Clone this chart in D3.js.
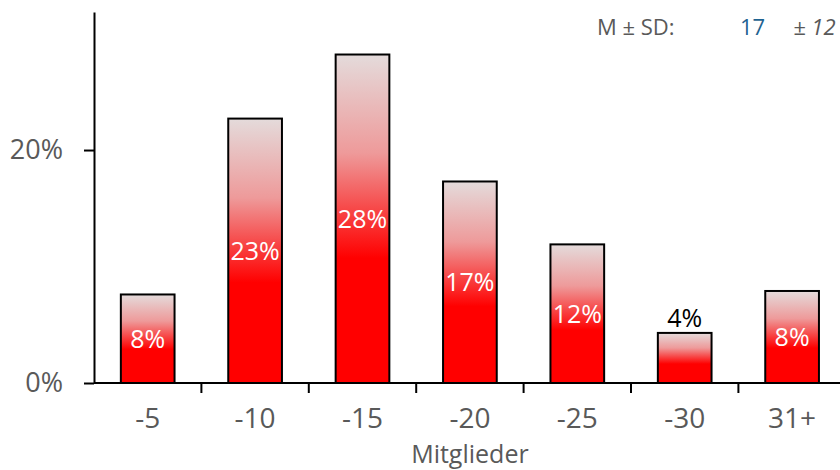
<!DOCTYPE html>
<html>
<head>
<meta charset="utf-8">
<script src="https://cdn.jsdelivr.net/npm/d3@7"></script>
<style>
  html, body { margin: 0; padding: 0; background: #fff; }
  svg { display: block; font-family: "Open Sans", sans-serif; }
</style>
</head>
<body>
<svg id="chart" width="840" height="470"></svg>
<script>
// Group sizes (members) and share of respondents, in percent
const categories = ["-5", "-10", "-15", "-20", "-25", "-30", "31+"];
const shares = [7.6, 22.7, 28.2, 17.3, 11.9, 4.3, 7.9];
const yTicks = [0, 20];
const meanValue = "17";
const sdValue = "± 12";

const svg = d3.select("#chart");
const margin = { left: 94, top: 12, bottom: 87 };
const height = 470;
const step = 107.4;
const FONT = "'Open Sans', sans-serif";

const x = d3.scaleBand()
  .domain(categories)
  .range([margin.left, margin.left + step * categories.length])
  .paddingInner(0.5)
  .paddingOuter(0.25);

const y = d3.scaleLinear()
  .domain([0, 31.85])
  .range([height - margin.bottom, margin.top]);

// bar fill: pale top fading into solid red
const defs = svg.append("defs");
const grad = defs.append("linearGradient")
  .attr("id", "barFill")
  .attr("x1", 0).attr("y1", 0).attr("x2", 0).attr("y2", 1);
grad.append("stop").attr("offset", "0%").attr("stop-color", "#e4dbdb");
grad.append("stop").attr("offset", "30%").attr("stop-color", "#ee9a9a");
grad.append("stop").attr("offset", "62%").attr("stop-color", "#ff0000");
grad.append("stop").attr("offset", "100%").attr("stop-color", "#ff0000");

// bars
svg.append("g").selectAll("rect")
  .data(shares)
  .join("rect")
  .attr("x", (d, i) => x(categories[i]))
  .attr("y", d => y(d))
  .attr("width", x.bandwidth())
  .attr("height", d => y(0) - y(d))
  .attr("fill", "url(#barFill)")
  .attr("stroke", "#000")
  .attr("stroke-width", 2);

// value labels: inside the bar when it fits, above it otherwise
const fmt = d => Math.round(d) + "%";
const fits = d => (y(0) - y(d)) > 60;
svg.append("g").selectAll("text")
  .data(shares)
  .join("text")
  .attr("x", (d, i) => x(categories[i]) + x.bandwidth() / 2)
  .attr("y", d => fits(d) ? (y(d) + y(0)) / 2 : y(d) - 6)
  .attr("dy", d => fits(d) ? "0.36em" : "0")
  .attr("text-anchor", "middle")
  .attr("font-size", 25)
  .attr("fill", d => fits(d) ? "#fff" : "#000")
  .text(fmt);

// y axis
const yAxis = svg.append("g")
  .attr("transform", `translate(${margin.left},0)`)
  .call(d3.axisLeft(y).tickValues(yTicks).tickFormat(d => d + "%").tickSize(10).tickSizeOuter(0));
yAxis.select(".domain").attr("stroke", "#000").attr("stroke-width", 2);
yAxis.selectAll(".tick line").attr("stroke", "#000").attr("stroke-width", 2);
yAxis.selectAll(".tick text")
  .attr("font-size", 27).attr("fill", "#595959").attr("x", -31)
  .attr("font-family", FONT);

// x axis: line with ticks between the categories
const baseY = y(0);
const xAxis = svg.append("g");
xAxis.append("line")
  .attr("x1", margin.left).attr("x2", 840)
  .attr("y1", baseY).attr("y2", baseY)
  .attr("stroke", "#000").attr("stroke-width", 2);
xAxis.selectAll("line.sep")
  .data(categories.slice(1))
  .join("line")
  .attr("class", "sep")
  .attr("x1", d => x(d) - x.step() * x.paddingInner() / 2)
  .attr("x2", d => x(d) - x.step() * x.paddingInner() / 2)
  .attr("y1", baseY).attr("y2", baseY + 10)
  .attr("stroke", "#000").attr("stroke-width", 2);
xAxis.selectAll("text")
  .data(categories)
  .join("text")
  .attr("x", d => x(d) + x.bandwidth() / 2)
  .attr("y", 428)
  .attr("text-anchor", "middle")
  .attr("font-size", 28)
  .attr("fill", "#595959")
  .text(d => d);

svg.append("text")
  .attr("x", x("-20") + x.bandwidth() / 2)
  .attr("y", 463)
  .attr("text-anchor", "middle")
  .attr("font-size", 25)
  .attr("fill", "#595959")
  .text("Mitglieder");

// mean and standard deviation
const stats = svg.append("g").attr("font-size", 22);
stats.append("text").attr("x", 597).attr("y", 35).attr("fill", "#595959").text("M ± SD:");
stats.append("text").attr("x", 740).attr("y", 35).attr("fill", "#1f6391").text(meanValue);
stats.append("text").attr("x", 793).attr("y", 35).attr("fill", "#595959").attr("font-style", "italic").text(sdValue);
</script>
</body>
</html>
